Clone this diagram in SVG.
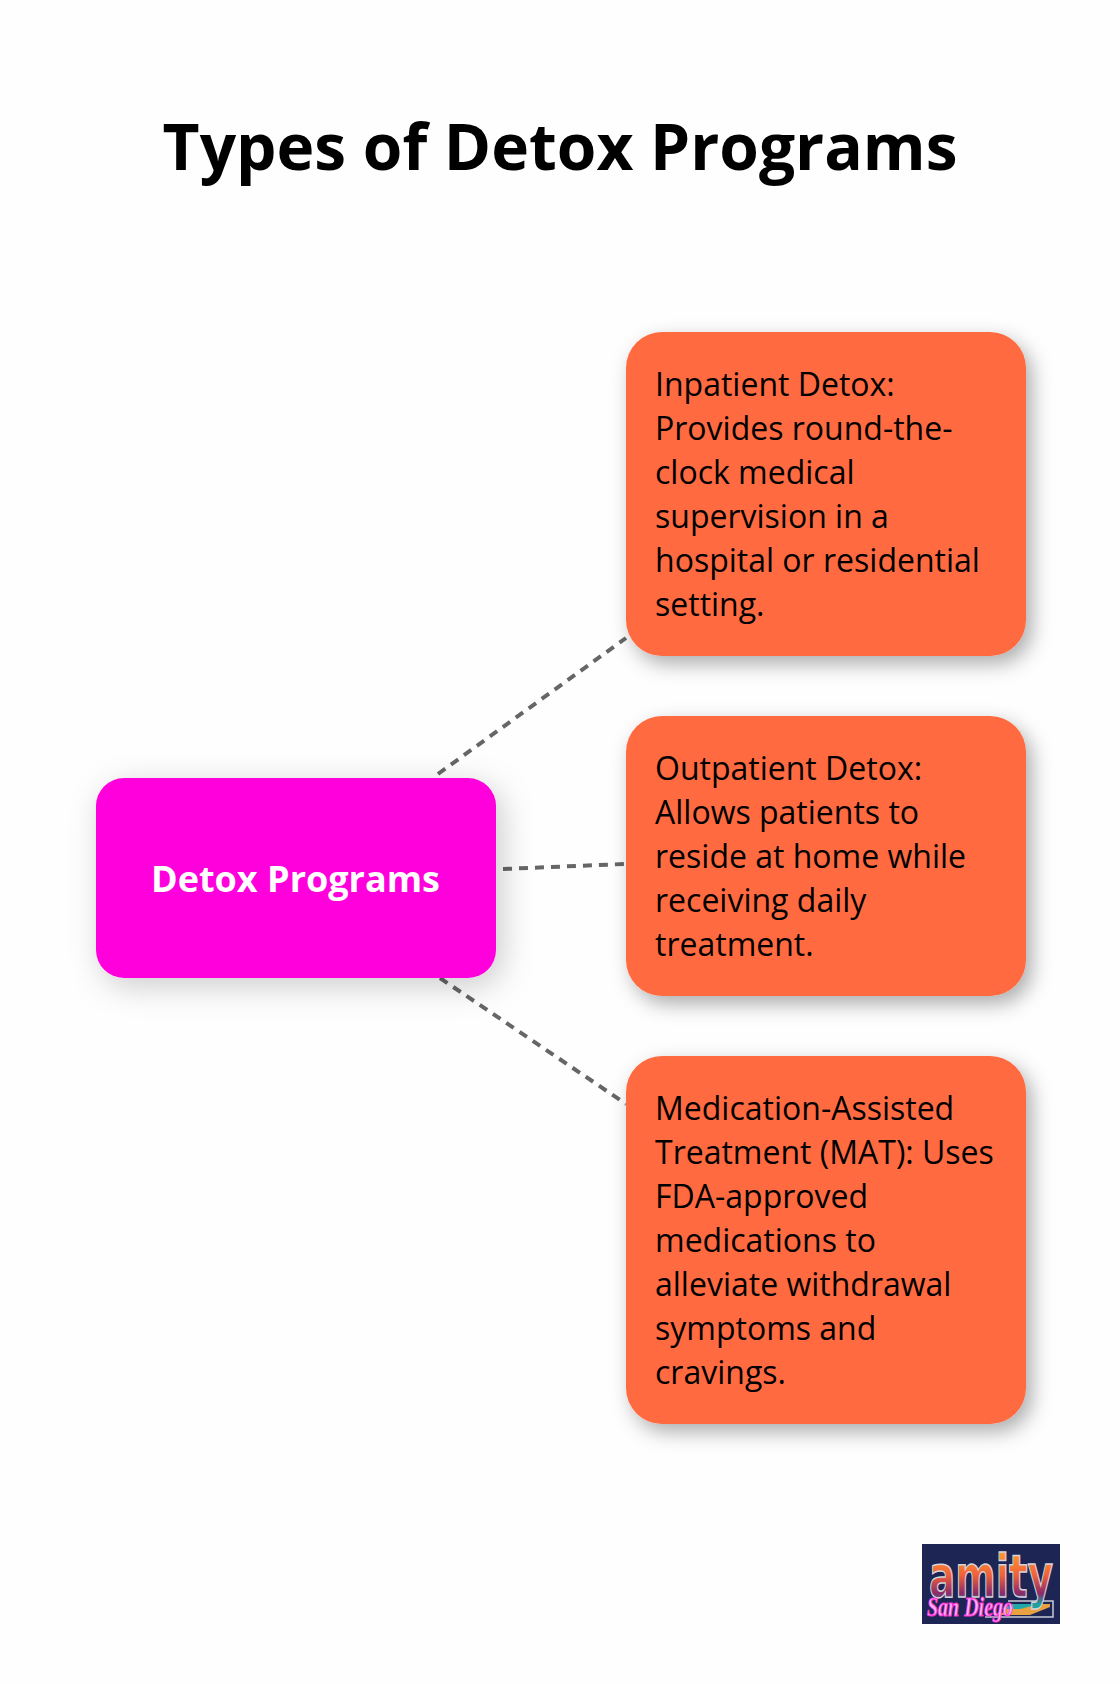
<svg xmlns="http://www.w3.org/2000/svg" width="1120" height="1684" viewBox="0 0 1120 1684">
<style>
text{font-family:"Open Sans","Noto Sans","Liberation Sans",sans-serif}
.t{font-size:32px;fill:#000}
.o{fill:#ff6b3f;filter:url(#s)}
.c{stroke:#666;stroke-width:4;stroke-dasharray:9 7;fill:none}
</style>
<defs>
<filter id="s" x="-20%" y="-20%" width="140%" height="140%"><feDropShadow dx="6" dy="8" stdDeviation="10" flood-color="#000" flood-opacity=".32"/></filter>
<filter id="m" x="-20%" y="-20%" width="140%" height="150%"><feDropShadow dx="6" dy="8" stdDeviation="16" flood-color="#000" flood-opacity=".2"/></filter>
<linearGradient id="g" gradientUnits="userSpaceOnUse" x1="0" y1="1552" x2="0" y2="1604"><stop offset="0" stop-color="#ff9a30"/><stop offset=".45" stop-color="#f0603a"/><stop offset=".8" stop-color="#8a2a6a"/><stop offset="1" stop-color="#20a0a0"/></linearGradient>
</defs>
<rect width="1120" height="1684" fill="#fefefe"/>
<text x="560" y="170" text-anchor="middle" font-size="64" font-weight="700" fill="#000">Types of Detox Programs</text>
<g id="connectors">
<path class="c" d="M438 774 626 638"/>
<path class="c" d="M503 869 624 864"/>
<path class="c" d="M440 978 626 1104"/>
</g>
<g id="root"><rect x="96" y="778" width="400" height="200" rx="28" fill="#ff00dc" filter="url(#m)"/>
<text x="295.5" y="892" text-anchor="middle" font-size="36" font-weight="700" fill="#fff">Detox Programs</text></g>
<g id="inpatient"><rect class="o" x="626" y="332" width="400" height="324" rx="36"/>
<text class="t"><tspan x="655" y="396">Inpatient Detox:</tspan><tspan x="655" y="440">Provides round-the-</tspan><tspan x="655" y="484">clock medical</tspan><tspan x="655" y="528">supervision in a</tspan><tspan x="655" y="572">hospital or residential</tspan><tspan x="655" y="616">setting.</tspan></text></g>
<g id="outpatient"><rect class="o" x="626" y="716" width="400" height="280" rx="36"/>
<text class="t"><tspan x="655" y="780">Outpatient Detox:</tspan><tspan x="655" y="824">Allows patients to</tspan><tspan x="655" y="868">reside at home while</tspan><tspan x="655" y="912">receiving daily</tspan><tspan x="655" y="956">treatment.</tspan></text></g>
<g id="mat"><rect class="o" x="626" y="1056" width="400" height="368" rx="36"/>
<text class="t"><tspan x="655" y="1120">Medication-Assisted</tspan><tspan x="655" y="1164">Treatment (MAT): Uses</tspan><tspan x="655" y="1208">FDA-approved</tspan><tspan x="655" y="1252">medications to</tspan><tspan x="655" y="1296">alleviate withdrawal</tspan><tspan x="655" y="1340">symptoms and</tspan><tspan x="655" y="1384">cravings.</tspan></text></g>
<g id="logo">
<rect x="922" y="1544" width="138" height="80" fill="#1c2554"/>
<path d="M1008 1601H1053V1617H985" fill="none" stroke="#c9c9d4" stroke-width="1.5"/>
<path d="M1012 1604H1050V1607L1030 1615H1000Z" fill="#e8a040"/>
<path d="M1012 1604H1040L1020 1609H1002Z" fill="#20a8a8"/>
<text x="929" y="1597" font-size="58" font-weight="700" textLength="124" lengthAdjust="spacingAndGlyphs" fill="url(#g)" stroke="#d4d4dc" stroke-width="1.5" style="font-family:'DejaVu Sans',sans-serif">amity</text>
<text x="927" y="1616" font-size="28" font-style="italic" font-weight="700" textLength="86" lengthAdjust="spacingAndGlyphs" fill="#ffb0f4" stroke="#ff30d8" stroke-width="1" style="font-family:'Liberation Serif',serif">San Diego</text>
</g>
</svg>
